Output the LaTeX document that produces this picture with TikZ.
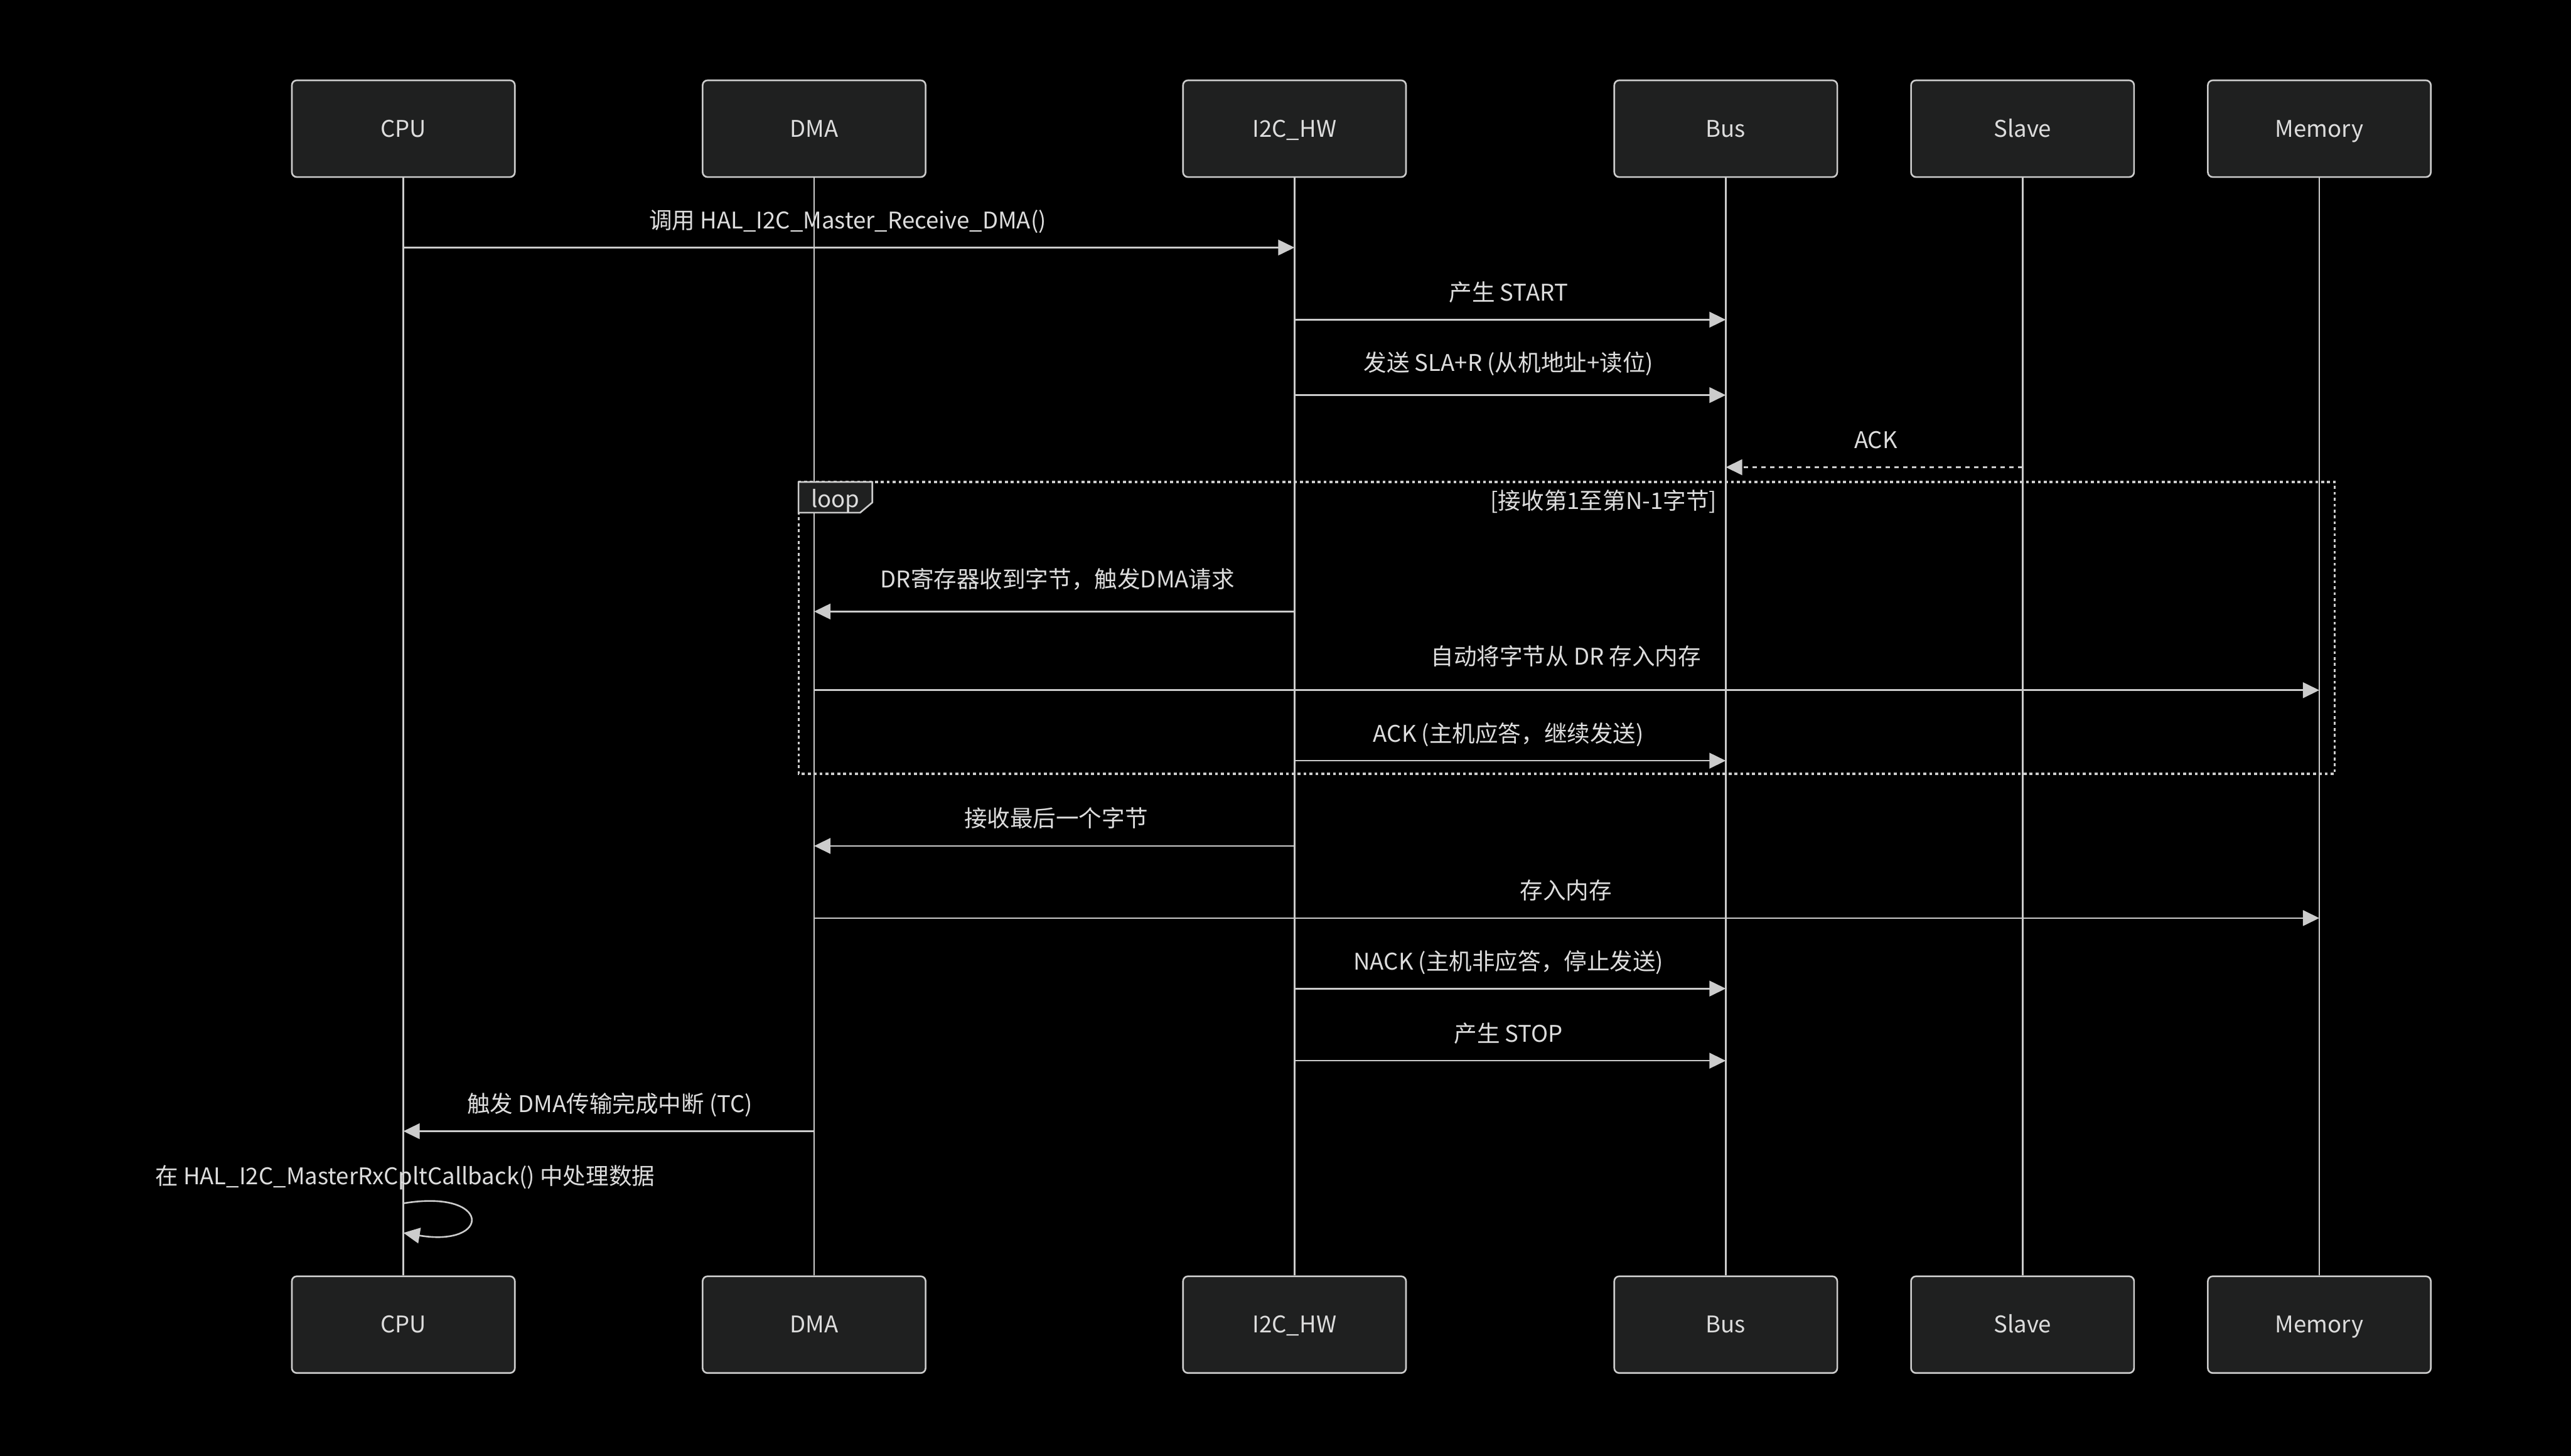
\documentclass[tikz,border=0pt]{standalone}
\usepackage{fontspec}
\setmainfont{Noto Sans CJK SC}
\usetikzlibrary{arrows.meta}
\definecolor{bgc}{HTML}{000000}
\definecolor{boxfill}{HTML}{1F2020}
\definecolor{lnc}{HTML}{CCCCCC}
\definecolor{txtc}{HTML}{DDDDDD}
\tikzset{
  actor/.style={draw=lnc, fill=boxfill, line width=1pt, rounded corners=3pt,
    minimum width=136pt, minimum height=59pt, inner sep=0pt, text=txtc,
    text height=10pt, text depth=0pt,
    font=\fontsize{14}{16}\selectfont},
  life/.style={draw=lnc, line width=1pt},
  msg/.style={draw=lnc, line width=1pt, -{Triangle[length=10pt,width=9.5pt]}},
  reply/.style={msg, dash pattern=on 2.7pt off 2.7pt},
  lbl/.style={text=txtc, font=\fontsize{14}{16}\selectfont, inner sep=0pt, anchor=base},
  loopframe/.style={draw=lnc, line width=1.2pt, dash pattern=on 1.8pt off 1.8pt},
  looptab/.style={draw=lnc, fill=boxfill, line width=1pt},
}
\begin{document}
\begin{tikzpicture}[x=1pt,y=-1pt]
\fill[bgc] (0,0) rectangle (1568,888);
\useasboundingbox (0,0) rectangle (1568,888);

% actors top
\node[actor] (cpuT) at (246,78.5) {CPU};
\node[actor] (dmaT) at (496.5,78.5) {DMA};
\node[actor] (i2cT) at (789.5,78.5) {I2C\_HW};
\node[actor] (busT) at (1052.5,78.5) {Bus};
\node[actor] (slvT) at (1233.5,78.5) {Slave};
\node[actor] (memT) at (1414.5,78.5) {Memory};
% actors bottom
\node[actor] (cpuB) at (246,808) {CPU};
\node[actor] (dmaB) at (496.5,808) {DMA};
\node[actor] (i2cB) at (789.5,808) {I2C\_HW};
\node[actor] (busB) at (1052.5,808) {Bus};
\node[actor] (slvB) at (1233.5,808) {Slave};
\node[actor] (memB) at (1414.5,808) {Memory};

% lifelines
\draw[life] (cpuT.south) -- (cpuB.north);
\draw[life] (dmaT.south) -- (dmaB.north);
\draw[life] (i2cT.south) -- (i2cB.north);
\draw[life] (busT.south) -- (busB.north);
\draw[life] (slvT.south) -- (slvB.north);
\draw[life] (memT.south) -- (memB.north);

% loop frame
\coordinate (lfA) at (487,294);
\coordinate (lfB) at (1424,472);
\draw[loopframe] (lfA) rectangle (lfB);
\draw[looptab] (487,294) -- (532,294) -- (532,306.5) -- (524.6,312.7) -- (487,312.7) -- cycle;
\node[lbl] (looplbl) at (509.5,309.5) {loop};
\node[lbl] (loopcond) at (978,310.5) {[接收第1至第N-1字节]};

% messages
\coordinate (m1a) at (cpuT.south |- 0,151);
\coordinate (m1b) at (i2cT.south |- 0,151);
\draw[msg] (m1a) -- (m1b);
\node[lbl] (t1) at (517,139.5) {调用 HAL\_I2C\_Master\_Receive\_DMA()};

\coordinate (m2a) at (i2cT.south |- 0,195);
\coordinate (m2b) at (busT.south |- 0,195);
\draw[msg] (m2a) -- (m2b);
\node[lbl] (t2) at (920,183.5) {产生 START};

\coordinate (m3a) at (i2cT.south |- 0,241);
\coordinate (m3b) at (busT.south |- 0,241);
\draw[msg] (m3a) -- (m3b);
\node[lbl] (t3) at (920,226.5) {发送 SLA+R (从机地址+读位)};

\coordinate (m4a) at (slvT.south |- 0,285);
\coordinate (m4b) at (busT.south |- 0,285);
\draw[reply] (m4a) -- (m4b);
\node[lbl] (t4) at (1144,273.5) {ACK};

\coordinate (m5a) at (i2cT.south |- 0,373);
\coordinate (m5b) at (dmaT.south |- 0,373);
\draw[msg] (m5a) -- (m5b);
\node[lbl] (t5) at (645,358.5) {DR寄存器收到字节，触发DMA请求};

\coordinate (m6a) at (dmaT.south |- 0,421);
\coordinate (m6b) at (memT.south |- 0,421);
\draw[msg] (m6a) -- (m6b);
\node[lbl] (t6) at (955,405.5) {自动将字节从 DR 存入内存};

\coordinate (m7a) at (i2cT.south |- 0,464);
\coordinate (m7b) at (busT.south |- 0,464);
\draw[msg] (m7a) -- (m7b);
\node[lbl] (t7) at (920,452.5) {ACK (主机应答，继续发送)};

\coordinate (m8a) at (i2cT.south |- 0,516);
\coordinate (m8b) at (dmaT.south |- 0,516);
\draw[msg] (m8a) -- (m8b);
\node[lbl] (t8) at (644,504.5) {接收最后一个字节};

\coordinate (m9a) at (dmaT.south |- 0,560);
\coordinate (m9b) at (memT.south |- 0,560);
\draw[msg] (m9a) -- (m9b);
\node[lbl] (t9) at (955,548.5) {存入内存};

\coordinate (m10a) at (i2cT.south |- 0,603);
\coordinate (m10b) at (busT.south |- 0,603);
\draw[msg] (m10a) -- (m10b);
\node[lbl] (t10) at (920,591.5) {NACK (主机非应答，停止发送)};

\coordinate (m11a) at (i2cT.south |- 0,647);
\coordinate (m11b) at (busT.south |- 0,647);
\draw[msg] (m11a) -- (m11b);
\node[lbl] (t11) at (920,635.5) {产生 STOP};

\coordinate (m12a) at (dmaT.south |- 0,690);
\coordinate (m12b) at (cpuT.south |- 0,690);
\draw[msg] (m12a) -- (m12b);
\node[lbl] (t12) at (372,678.5) {触发 DMA传输完成中断 (TC)};

\coordinate (m13a) at (cpuT.south |- 0,734);
\coordinate (m13b) at (cpuT.south |- 0,752);
\draw[msg] (m13a) .. controls (300,725) and (300,761) .. (m13b);
\node[lbl] (t13) at (247,722.5) {在 HAL\_I2C\_MasterRxCpltCallback() 中处理数据};
\end{tikzpicture}
\end{document}
